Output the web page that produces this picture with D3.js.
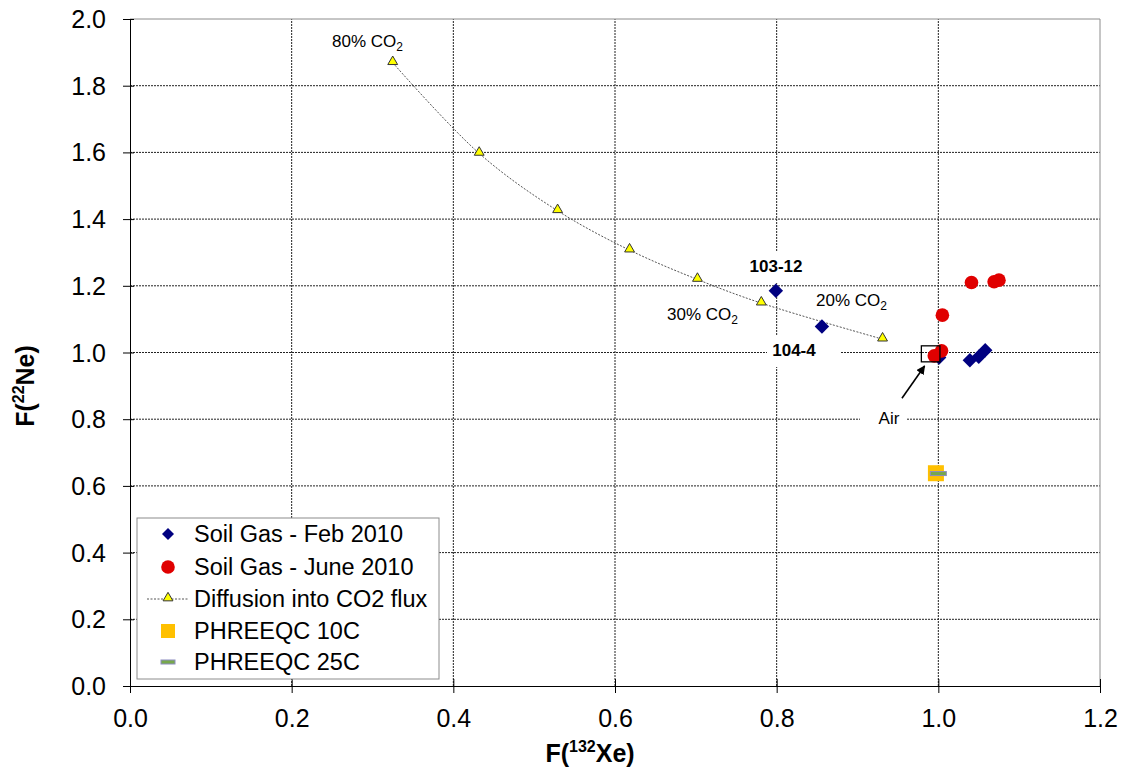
<!DOCTYPE html>
<html>
<head>
<meta charset="utf-8">
<script src="https://cdn.jsdelivr.net/npm/d3@7"></script>
<style>
  html, body { margin: 0; padding: 0; background: #fff; }
  svg { display: block; font-family: "Liberation Sans", Arial, sans-serif; }
</style>
</head>
<body>
<svg id="chart" width="1128" height="769"></svg>
<script>
// Axis ticks
const xTicks = [0.0, 0.2, 0.4, 0.6, 0.8, 1.0, 1.2];
const yTicks = [0.0, 0.2, 0.4, 0.6, 0.8, 1.0, 1.2, 1.4, 1.6, 1.8, 2.0];

// Soil gas, February 2010
const febX = [0.799, 0.856, 1.001, 1.039, 1.050, 1.058];
const febY = [1.185, 1.078, 0.985, 0.977, 0.987, 1.007];

// Soil gas, June 2010
const junX = [1.041, 1.069, 1.075, 1.005, 1.004, 0.995];
const junY = [1.210, 1.212, 1.217, 1.112, 1.005, 0.990];

// Diffusion into CO2 flux model curve
const difX = [0.325, 0.432, 0.529, 0.618, 0.702, 0.781, 0.931];
const difY = [1.869, 1.597, 1.425, 1.307, 1.219, 1.148, 1.040];

// PHREEQC equilibrium values
const p10X = [0.997], p10Y = [0.638];
const p25X = [1.000], p25Y = [0.637];

const legendNames = ["Soil Gas - Feb 2010", "Soil Gas - June 2010",
                     "Diffusion into CO2 flux", "PHREEQC 10C", "PHREEQC 25C"];

const svg = d3.select("#chart");
const x = d3.scaleLinear().domain([0, 1.2]).range([130, 1100]);
const y = d3.scaleLinear().domain([0, 2.0]).range([686, 19]);

const C = {
  feb: "#000080", jun: "#e00000", tri: "#ffff00",
  p10: "#ffc000", p25: "#77a84c", p25s: "#8c8cc0"
};

// Grid lines
const grid = svg.append("g");
grid.selectAll(".hg").data(yTicks.filter(d => d > 0 && d < 2.0)).join("line")
  .attr("x1", x(0)).attr("x2", x(1.2))
  .attr("y1", d => y(d)).attr("y2", d => y(d))
  .attr("stroke", "#222").attr("stroke-width", 1).attr("stroke-dasharray", "2,1");
grid.selectAll(".vg").data(xTicks.filter(d => d > 0 && d < 1.2)).join("line")
  .attr("y1", y(0)).attr("y2", y(2.0))
  .attr("x1", d => x(d)).attr("x2", d => x(d))
  .attr("stroke", "#222").attr("stroke-width", 1).attr("stroke-dasharray", "2,1");

// Plot area border (top, right)
svg.append("path")
  .attr("d", `M${x(0)},${y(2)}H${x(1.2)}V${y(0)}`)
  .attr("fill", "none").attr("stroke", "#8c8c8c").attr("stroke-width", 1);

// Axes with cross tick marks
const xAxis = svg.append("g").attr("transform", `translate(0,${y(0)})`)
  .call(d3.axisBottom(x).tickValues(xTicks).tickFormat(d3.format(".1f")).tickSizeInner(7).tickSizeOuter(0));
xAxis.selectAll(".tick line").attr("y1", -7).attr("y2", 7).attr("stroke", "#000");
xAxis.select(".domain").attr("stroke", "#000");
xAxis.selectAll(".tick text").attr("font-size", 25).attr("font-family", "Liberation Sans, Arial, sans-serif")
  .attr("fill", "#000").attr("dy", null).attr("y", 41);

const yAxis = svg.append("g").attr("transform", `translate(${x(0)},0)`)
  .call(d3.axisLeft(y).tickValues(yTicks).tickFormat(d3.format(".1f")).tickSizeInner(7).tickSizeOuter(0));
yAxis.selectAll(".tick line").attr("x1", -7).attr("x2", 4).attr("stroke", "#000");
yAxis.select(".domain").attr("stroke", "#000");
yAxis.selectAll(".tick text").attr("font-size", 25).attr("font-family", "Liberation Sans, Arial, sans-serif")
  .attr("fill", "#000").attr("x", -24).attr("dy", "0.34em");

// Axis titles
const xt = svg.append("text").attr("x", 590).attr("y", 762).attr("text-anchor", "middle")
  .attr("font-size", 25).attr("font-weight", "bold");
xt.append("tspan").text("F(");
xt.append("tspan").attr("font-size", 16).attr("dy", -10).text("132");
xt.append("tspan").attr("dy", 10).text("Xe)");

const yt = svg.append("text").attr("transform", "translate(34,386) rotate(-90)")
  .attr("text-anchor", "middle").attr("font-size", 25).attr("font-weight", "bold");
yt.append("tspan").text("F(");
yt.append("tspan").attr("font-size", 16).attr("dy", -10).text("22");
yt.append("tspan").attr("dy", 10).text("Ne)");

// White label backgrounds that interrupt grid lines
const bg = [[745, 251, 63, 32], [767, 335, 73, 32], [860, 405, 46, 27]];
svg.selectAll(".bg").data(bg).join("rect")
  .attr("x", d => d[0]).attr("y", d => d[1]).attr("width", d => d[2]).attr("height", d => d[3])
  .attr("fill", "#fff");

// Diffusion curve
const dif = difX.map((v, i) => [v, difY[i]]);
svg.append("path").datum(dif)
  .attr("d", d3.line().x(d => x(d[0])).y(d => y(d[1])).curve(d3.curveCatmullRom.alpha(0.5)))
  .attr("fill", "none").attr("stroke", "#555").attr("stroke-width", 1).attr("stroke-dasharray", "2,1.5");
const tri = d3.symbol().type(d3.symbolTriangle).size(42);
svg.selectAll(".tri").data(dif).join("path")
  .attr("d", tri).attr("transform", d => `translate(${x(d[0])},${y(d[1]) - 1})`)
  .attr("fill", C.tri).attr("stroke", "#333").attr("stroke-width", 1);

// Feb diamonds
const dia = d3.symbol().type(d3.symbolSquare).size(104);
svg.selectAll(".feb").data(febX.map((v, i) => [v, febY[i]])).join("path")
  .attr("d", dia).attr("transform", d => `translate(${x(d[0])},${y(d[1])}) rotate(45)`)
  .attr("fill", C.feb);

// June circles
svg.selectAll(".jun").data(junX.map((v, i) => [v, junY[i]])).join("circle")
  .attr("cx", d => x(d[0])).attr("cy", d => y(d[1])).attr("r", 6.8)
  .attr("fill", C.jun);

// PHREEQC markers
svg.selectAll(".p10").data(p10X.map((v, i) => [v, p10Y[i]])).join("rect")
  .attr("x", d => x(d[0]) - 8).attr("y", d => y(d[1]) - 8).attr("width", 16).attr("height", 16)
  .attr("fill", C.p10);
svg.selectAll(".p25").data(p25X.map((v, i) => [v, p25Y[i]])).join("rect")
  .attr("x", d => x(d[0]) - 8).attr("y", d => y(d[1]) - 2).attr("width", 16).attr("height", 4)
  .attr("fill", C.p25).attr("stroke", C.p25s).attr("stroke-width", 1);

// Air reference box and arrow
svg.append("rect").attr("x", x(0.979)).attr("y", y(1.020))
  .attr("width", x(1.002) - x(0.979)).attr("height", y(0.972) - y(1.020))
  .attr("fill", "none").attr("stroke", "#000").attr("stroke-width", 1.3);
svg.append("defs").append("marker").attr("id", "ah")
  .attr("viewBox", "0 0 10 10").attr("refX", 9).attr("refY", 5)
  .attr("markerWidth", 9).attr("markerHeight", 9).attr("markerUnits", "userSpaceOnUse")
  .attr("orient", "auto")
  .append("path").attr("d", "M0,0L10,5L0,10Z").attr("fill", "#000");
svg.append("line")
  .attr("x1", x(0.955)).attr("y1", y(0.863)).attr("x2", x(0.983)).attr("y2", y(0.9595))
  .attr("stroke", "#000").attr("stroke-width", 1.6).attr("marker-end", "url(#ah)");

// Text annotations
function co2(label, px, py) {
  const t = svg.append("text").attr("x", px).attr("y", py).attr("font-size", 17).attr("fill", "#000");
  t.append("tspan").text(label + " CO");
  t.append("tspan").attr("font-size", 12).attr("dy", 4).text("2");
}
co2("80%", 332, 47);
co2("30%", 667, 320);
co2("20%", 816, 306);
svg.append("text").attr("x", 776).attr("y", 272).attr("text-anchor", "middle")
  .attr("font-size", 17).attr("font-weight", "bold").text("103-12");
svg.append("text").attr("x", 794).attr("y", 356).attr("text-anchor", "middle")
  .attr("font-size", 17).attr("font-weight", "bold").text("104-4");
svg.append("text").attr("x", 889).attr("y", 424).attr("text-anchor", "middle")
  .attr("font-size", 17).text("Air");

// Legend
const lg = svg.append("g");
lg.append("rect").attr("x", 137).attr("y", 518).attr("width", 302).attr("height", 161)
  .attr("fill", "#fff").attr("stroke", "#8c8c8c").attr("stroke-width", 1);
const rowY = [534, 567, 599, 631, 662];
const sx = 168;
lg.append("path").attr("d", d3.symbol().type(d3.symbolSquare).size(72))
  .attr("transform", `translate(${sx},${rowY[0]}) rotate(45)`).attr("fill", C.feb);
lg.append("circle").attr("cx", sx).attr("cy", rowY[1]).attr("r", 6.8).attr("fill", C.jun);
lg.append("line").attr("x1", 147).attr("x2", 189).attr("y1", rowY[2]).attr("y2", rowY[2])
  .attr("stroke", "#555").attr("stroke-dasharray", "2,1.5");
lg.append("path").attr("d", tri).attr("transform", `translate(${sx},${rowY[2] - 1})`)
  .attr("fill", C.tri).attr("stroke", "#333");
lg.append("rect").attr("x", sx - 7).attr("y", rowY[3] - 7).attr("width", 14).attr("height", 14).attr("fill", C.p10);
lg.append("rect").attr("x", sx - 7).attr("y", rowY[4] - 2).attr("width", 14).attr("height", 4)
  .attr("fill", C.p25).attr("stroke", C.p25s);
lg.selectAll(".lt").data(legendNames).join("text")
  .attr("x", 194).attr("y", (d, i) => rowY[i] + 8).attr("font-size", 23.5).attr("fill", "#000")
  .text(d => d);
</script>
</body>
</html>
